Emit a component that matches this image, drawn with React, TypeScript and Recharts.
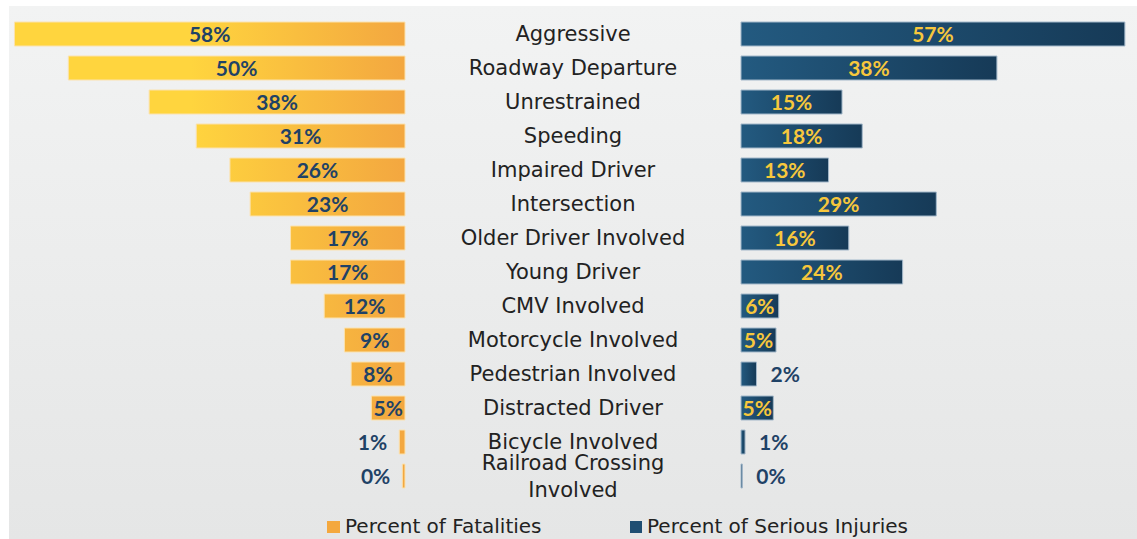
import React from 'react';
import { BarChart, Bar, XAxis, YAxis, LabelList } from 'recharts';

const categories = [
  'Aggressive',
  'Roadway Departure',
  'Unrestrained',
  'Speeding',
  'Impaired Driver',
  'Intersection',
  'Older Driver Involved',
  'Young Driver',
  'CMV Involved',
  'Motorcycle Involved',
  'Pedestrian Involved',
  'Distracted Driver',
  'Bicycle Involved',
  'Railroad Crossing Involved',
];

// percent values (tiny ones, labels are rounded)
const fatalities = [58, 50, 38, 31, 26, 23, 17, 17, 12, 9, 8, 5, 0.85, 0.4];
const seriousInjuries = [57, 38, 15, 18, 13, 29, 16, 24, 5.6, 5.2, 2.3, 4.8, 0.6, 0.2];

const legendLabels = ['Percent of Fatalities', 'Percent of Serious Injuries'];

const rows = categories.map((category, i) => ({
  category,
  fatalities: fatalities[i],
  injuries: seriousInjuries[i],
}));

const NAVY = '#1f4266';
const YELLOW = '#f7c73c';
const CAT_FONT = '"DejaVu Sans", sans-serif';
const NUM_FONT = 'Lato, sans-serif';
const AXIS_W = 336;

function CategoryTick(props: any) {
  const { y, payload } = props;
  const text: string = payload.value;
  const lines =
    text.length > 22
      ? [text.slice(0, text.lastIndexOf(' ')), text.slice(text.lastIndexOf(' ') + 1)]
      : [text];
  const cx = AXIS_W / 2;
  if (lines.length === 1) {
    return (
      <text x={cx} y={y} dy="0.35em" textAnchor="middle" fill="#222" fontFamily={CAT_FONT} fontSize={21}>
        {text}
      </text>
    );
  }
  return (
    <text textAnchor="middle" fill="#222" fontFamily={CAT_FONT} fontSize={21}>
      <tspan x={cx} y={y - 13} dy="0.35em">{lines[0]}</tspan>
      <tspan x={cx} y={y + 14} dy="0.35em">{lines[1]}</tspan>
    </text>
  );
}

const leftLabel = (props: any) => {
  const { x, y, width, height, value } = props;
  const l = Math.min(x, x + width);
  const r = Math.max(x, x + width);
  const inside = value >= 3;
  return (
    <text
      x={inside ? (l + r) / 2 : l - 12}
      y={y + height / 2}
      dy="0.36em"
      textAnchor={inside ? 'middle' : 'end'}
      fill={NAVY}
      fontFamily={NUM_FONT}
      fontWeight={700}
      fontSize={21}
    >
      {Math.round(value)}%
    </text>
  );
};

const rightLabel = (props: any) => {
  const { x, y, width, height, value } = props;
  const inside = value >= 3;
  return (
    <text
      x={inside ? x + width / 2 : x + width + 14}
      y={y + height / 2}
      dy="0.36em"
      textAnchor={inside ? 'middle' : 'start'}
      fill={inside ? YELLOW : NAVY}
      fontFamily={NUM_FONT}
      fontWeight={700}
      fontSize={21}
    >
      {Math.round(value)}%
    </text>
  );
};

export default function App() {
  return (
    <div
      style={{
        position: 'absolute',
        left: 0,
        top: 0,
        width: 1137,
        height: 539,
        background: '#fff',
        overflow: 'hidden',
      }}
    >
      <div
        style={{
          position: 'absolute',
          left: 9,
          top: 6,
          width: 1128,
          height: 533,
          background: 'linear-gradient(to bottom, #f2f3f3, #e5e6e6)',
        }}
      />
      <div style={{ position: 'absolute', left: 0, top: 0 }}>
        <BarChart
          width={406}
          height={512}
          data={rows}
          layout="vertical"
          margin={{ top: 17, right: 1, bottom: 19, left: 1 }}
          barCategoryGap={5}
        >
          <defs>
            <linearGradient id="fatalFill" gradientUnits="userSpaceOnUse" x1="190" y1="0" x2="405" y2="0">
              <stop offset="0" stopColor="#ffd53e" />
              <stop offset="1" stopColor="#f3a740" />
            </linearGradient>
          </defs>
          <XAxis type="number" domain={[0, 60]} reversed hide />
          <YAxis type="category" dataKey="category" hide />
          <Bar
            dataKey="fatalities"
            barSize={24}
            fill="url(#fatalFill)"
            stroke="#fbe2ae"
            strokeWidth={1}
            isAnimationActive={false}
          >
            <LabelList dataKey="fatalities" content={leftLabel} />
          </Bar>
        </BarChart>
      </div>
      <div style={{ position: 'absolute', left: 405, top: 0 }}>
        <BarChart
          width={732}
          height={512}
          data={rows}
          layout="vertical"
          margin={{ top: 17, right: 0, bottom: 19, left: 0 }}
          barCategoryGap={5}
        >
          <defs>
            <linearGradient id="injuryFill" x1="0" y1="0" x2="1" y2="0">
              <stop offset="0" stopColor="#235a80" />
              <stop offset="1" stopColor="#163a57" />
            </linearGradient>
          </defs>
          <XAxis type="number" domain={[0, 58.8]} hide />
          <YAxis
            type="category"
            dataKey="category"
            width={AXIS_W}
            axisLine={false}
            tickLine={false}
            interval={0}
            tick={<CategoryTick />}
          />
          <Bar
            dataKey="injuries"
            barSize={24}
            fill="url(#injuryFill)"
            stroke="#a3b8ca"
            strokeWidth={1}
            isAnimationActive={false}
          >
            <LabelList dataKey="injuries" content={rightLabel} />
          </Bar>
        </BarChart>
      </div>
      <svg style={{ position: 'absolute', left: 0, top: 0 }} width={1137} height={539}>
        <rect x={327} y={521} width={13} height={12} fill="#f4a83e" />
        <text x={345} y={533} fill="#222" fontFamily={CAT_FONT} fontSize={20}>
          {legendLabels[0]}
        </text>
        <rect x={630} y={521} width={12} height={12} fill="#1f4e72" />
        <text x={647} y={533} fill="#222" fontFamily={CAT_FONT} fontSize={20}>
          {legendLabels[1]}
        </text>
      </svg>
    </div>
  );
}
